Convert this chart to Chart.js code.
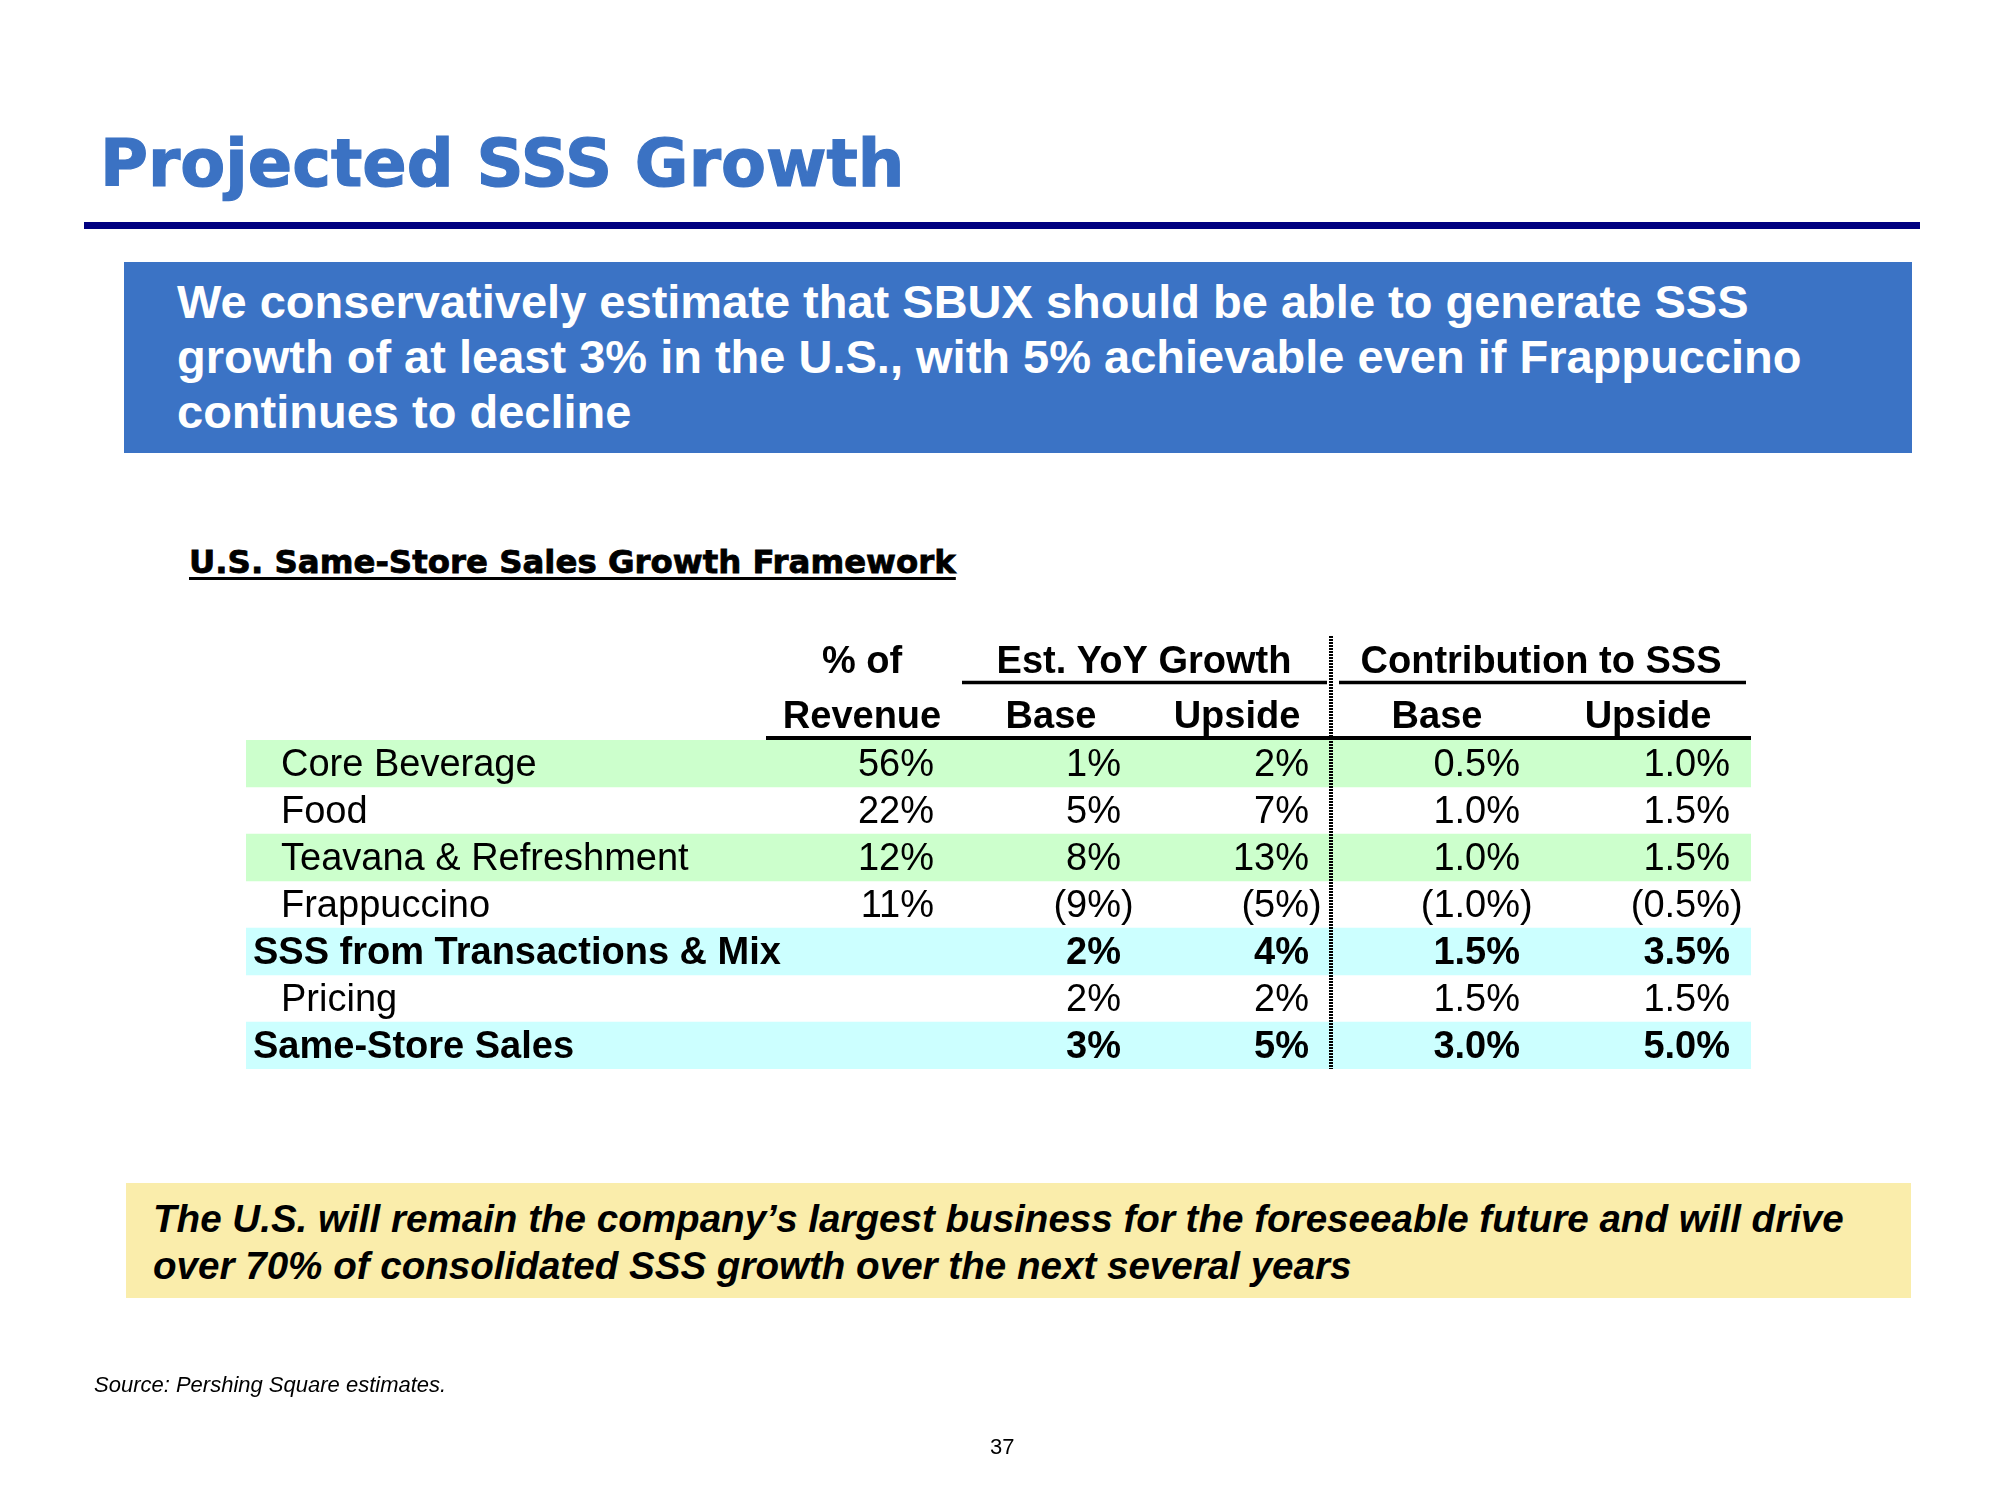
<!DOCTYPE html>
<html>
<head>
<meta charset="utf-8">
<script src="https://cdn.jsdelivr.net/npm/chart.js@4.4.1/dist/chart.umd.min.js"></script>
<style>
html,body{margin:0;padding:0;background:#fff;}
#page{position:relative;width:2000px;height:1500px;overflow:hidden;font-family:"Liberation Sans",Arial,sans-serif;color:#000;}
.abs{position:absolute;white-space:nowrap;}
#title{left:100px;top:131px;font-family:"DejaVu Sans",sans-serif;font-weight:bold;font-size:65.5px;line-height:65px;color:#3B72C3;-webkit-text-stroke:1.2px #3B72C3;}
#rule{left:84px;top:222px;width:1836px;height:7px;background:#000080;}
#callout{left:124px;top:262px;width:1788px;height:191px;background:#3B73C5;}
#calloutText{left:177px;top:274px;font-weight:bold;font-size:47px;line-height:55px;color:#fff;}
#tableTitle{left:189px;top:546px;font-family:"DejaVu Sans",sans-serif;font-weight:bold;font-size:32.4px;line-height:32px;-webkit-text-stroke:0.8px #000;text-decoration:underline;text-decoration-thickness:3px;text-underline-offset:4px;}
#note{left:126px;top:1183px;width:1785px;height:115px;background:#FAEDAB;}
#noteText{left:153px;top:1195px;font-weight:bold;font-style:italic;font-size:38.6px;line-height:47px;}
#source{left:94px;top:1374px;font-style:italic;font-size:22px;line-height:22px;}
#pageNo{left:990px;top:1436px;font-size:22px;line-height:22px;}
#chart{position:absolute;left:0;top:0;}
</style>
</head>
<body>
<div id="page">
  <div id="title" class="abs">Projected SSS Growth</div>
  <div id="rule" class="abs"></div>
  <div id="callout" class="abs"></div>
  <div id="calloutText" class="abs">We conservatively estimate that SBUX should be able to generate SSS<br>growth of at least 3% in the U.S., with 5% achievable even if Frappuccino<br>continues to decline</div>
  <div id="tableTitle" class="abs">U.S. Same-Store Sales Growth Framework</div>
  <canvas id="chart" width="2000" height="1500"></canvas>
  <div id="note" class="abs"></div>
  <div id="noteText" class="abs">The U.S. will remain the company’s largest business for the foreseeable future and will drive<br>over 70% of consolidated SSS growth over the next several years</div>
  <div id="source" class="abs">Source: Pershing Square estimates.</div>
  <div id="pageNo" class="abs">37</div>
</div>
<script>
// ---------- DATA ----------
const rowLabels = ['Core Beverage', 'Food', 'Teavana & Refreshment', 'Frappuccino',
                   'SSS from Transactions & Mix', 'Pricing', 'Same-Store Sales'];
const revenueShare   = [56, 22, 12, 11, null, null, null];
const growthBase     = [1, 5, 8, -9, 2, 2, 3];
const growthUpside   = [2, 7, 13, -5, 4, 2, 5];
const contribBase    = [0.5, 1.0, 1.0, -1.0, 1.5, 1.5, 3.0];
const contribUpside  = [1.0, 1.5, 1.5, -0.5, 3.5, 1.5, 5.0];
const groupHeaders   = ['% of', 'Est. YoY Growth', 'Contribution to SSS'];
const subHeaders     = ['Revenue', 'Base', 'Upside', 'Base', 'Upside'];
const totalRows      = ['SSS from Transactions & Mix', 'Same-Store Sales'];

// ---------- STYLE / LAYOUT ----------
const CLEAR = 'rgba(0,0,0,0)';
const ROW_FILL = ['#CCFFCC', CLEAR, '#CCFFCC', CLEAR, '#CCFFFF', CLEAR, '#CCFFFF'];
const TABLE_W = 1505;                       // x-scale units = table width
const L = {
  indent: 35, indentBold: 7,
  valueRight: [688, 875, 1063, 1274, 1484],
  subCenter: [616, 805, 991, 1191, 1402],
  groupCenter: [616, 898, 1295],
  groupLine: [null, [716, 1081], [1093, 1500]],
  headLine: [520, 1505],
  divider: 1085
};
const FONT = '"Liberation Sans", Arial, sans-serif';
const columns = [
  {vals: revenueShare, dec: 0},
  {vals: growthBase, dec: 0},
  {vals: growthUpside, dec: 0},
  {vals: contribBase, dec: 1},
  {vals: contribUpside, dec: 1}
];
function fmt(v, dec) {
  if (v === null || v === undefined) return '';
  const s = Math.abs(v).toFixed(dec) + '%';
  return v < 0 ? '(' + s + ')' : s;
}

const tablePlugin = {
  id: 'tableText',
  afterDatasetsDraw(chart) {
    const {ctx, chartArea: a, scales: {x, y}} = chart;
    ctx.save();
    ctx.fillStyle = '#000';
    ctx.strokeStyle = '#000';
    ctx.textBaseline = 'alphabetic';

    // headers
    ctx.font = 'bold 38px ' + FONT;
    ctx.textAlign = 'center';
    groupHeaders.forEach((h, i) => ctx.fillText(h, x.getPixelForValue(L.groupCenter[i]), a.top - 67));
    subHeaders.forEach((h, i) => ctx.fillText(h, x.getPixelForValue(L.subCenter[i]), a.top - 12));

    ctx.lineWidth = 3.5;
    L.groupLine.forEach(r => {
      if (!r) return;
      ctx.beginPath();
      ctx.moveTo(x.getPixelForValue(r[0]), a.top - 57.5);
      ctx.lineTo(x.getPixelForValue(r[1]), a.top - 57.5);
      ctx.stroke();
    });
    ctx.lineWidth = 4;
    ctx.beginPath();
    ctx.moveTo(x.getPixelForValue(L.headLine[0]), a.top - 2);
    ctx.lineTo(x.getPixelForValue(L.headLine[1]), a.top - 2);
    ctx.stroke();

    // body
    rowLabels.forEach((lab, i) => {
      const cy = y.getPixelForValue(i) + 12;
      const bold = totalRows.includes(lab);
      ctx.font = (bold ? 'bold ' : '') + '38px ' + FONT;
      ctx.textAlign = 'left';
      ctx.fillText(lab, x.getPixelForValue(bold ? L.indentBold : L.indent), cy);
      ctx.textAlign = 'right';
      columns.forEach((c, j) => {
        const s = fmt(c.vals[i], c.dec);
        if (!s) return;
        let xr = x.getPixelForValue(L.valueRight[j]);
        if (s.endsWith(')')) xr += ctx.measureText(')').width;
        ctx.fillText(s, xr, cy);
      });
    });

    // dotted divider
    ctx.setLineDash([2, 1]);
    ctx.lineWidth = 4;
    const dx = Math.round(x.getPixelForValue(L.divider));
    ctx.beginPath();
    ctx.moveTo(dx, a.top - 104);
    ctx.lineTo(dx, a.bottom);
    ctx.stroke();
    ctx.restore();
  }
};

new Chart(document.getElementById('chart'), {
  type: 'bar',
  data: {
    labels: rowLabels,
    datasets: [{
      data: rowLabels.map(() => [0, TABLE_W]),
      backgroundColor: ROW_FILL,
      borderWidth: 0,
      barPercentage: 1,
      categoryPercentage: 1
    }]
  },
  options: {
    indexAxis: 'y',
    responsive: false,
    animation: false,
    events: [],
    layout: {padding: {left: 246, right: 249, top: 740, bottom: 431}},
    plugins: {legend: {display: false}, tooltip: {enabled: false}},
    scales: {
      x: {type: 'linear', min: 0, max: TABLE_W, display: false},
      y: {type: 'category', display: false, offset: true}
    }
  },
  plugins: [tablePlugin]
});
</script>
</body>
</html>
